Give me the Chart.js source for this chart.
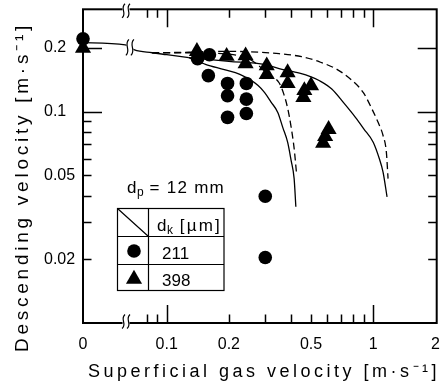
<!DOCTYPE html>
<html><head><meta charset="utf-8">
<script src="https://cdn.jsdelivr.net/npm/chart.js@4"></script>
<style>html,body{margin:0;padding:0;background:#fff}</style>
</head><body>
<canvas id="c" width="446" height="385" style="display:block;width:446px;height:385px"></canvas>
<script>
// ---- axis ticks / labels ----
const X_TICK_VALUES = [0, 0.1, 0.2, 0.5, 1, 2];
const X_TICK_LABELS = ['0', '0.1', '0.2', '0.5', '1', '2'];
const X_MAJOR_MARKS = [0.1, 1];
const X_MINOR_MARKS = [0.08, 0.09, 0.2, 0.3, 0.4, 0.5, 0.6, 0.7, 0.8, 0.9];
const Y_TICK_VALUES = [0.02, 0.05, 0.1, 0.2];
const Y_TICK_LABELS = ['0.02', '0.05', '0.1', '0.2'];
const Y_MAJOR_MARKS = [0.1, 0.2];
const Y_MINOR_MARKS = [0.02, 0.03, 0.04, 0.05, 0.06, 0.07, 0.08, 0.09];
const X_MIN = 0.0393, X_MAX = 2.03, Y_MIN = 0.01, Y_MAX = 0.305;
const AXIS_BREAK_X = 0.0635;
const X_TITLE = 'Superficial gas velocity [m·s⁻¹]';
const Y_TITLE = 'Descending velocity [m·s⁻¹]';
const SERIES_LABELS = ['211', '398'];

// ---- measured points (dk = 211 µm : circles, 398 µm : triangles) ----
const SMALL_X = [0, 0.141, 0.161, 0.159, 0.197, 0.197, 0.197, 0.243, 0.243, 0.243, 0.3, 0.3];
const SMALL_Y = [0.221, 0.178, 0.186, 0.148, 0.136, 0.119, 0.094, 0.136, 0.1146, 0.098, 0.0398, 0.0204];
const LARGE_X = [0, 0.14, 0.195, 0.241, 0.241, 0.305, 0.305, 0.385, 0.385, 0.5, 0.464, 0.459, 0.608, 0.585, 0.572];
const LARGE_Y = [0.2, 0.193, 0.183, 0.184, 0.169, 0.165, 0.150, 0.153, 0.136, 0.133, 0.126, 0.117, 0.0825, 0.0765, 0.071];

// ---- calculated curves ----
const STEM_X = [0, 0.063, 0.0698, 0.085, 0.1, 0.128];
const STEM_Y = [0.212, 0.207, 0.196, 0.19, 0.186, 0.18];
const SOLID_L_X = [0.128, 0.154, 0.19, 0.226, 0.277, 0.298, 0.32, 0.345, 0.365, 0.385, 0.4, 0.414, 0.422];
const SOLID_L_Y = [0.18, 0.1675, 0.158, 0.15, 0.133, 0.123, 0.111, 0.0992, 0.084, 0.0717, 0.059, 0.0482, 0.0355];
const SOLID_R_X = [0.128, 0.2, 0.3, 0.35, 0.44, 0.5, 0.55, 0.63, 0.72, 0.82, 0.9, 1.0, 1.07, 1.116, 1.167];
const SOLID_R_Y = [0.18, 0.173, 0.167, 0.16, 0.152, 0.146, 0.14, 0.128, 0.11, 0.094, 0.083, 0.0717, 0.06, 0.0518, 0.0395];
const DASH_L_X = [0.085, 0.128, 0.2, 0.25, 0.277, 0.31, 0.35, 0.37, 0.385, 0.4, 0.414, 0.426];
const DASH_L_Y = [0.19, 0.19, 0.187, 0.178, 0.166, 0.15, 0.137, 0.12, 0.104, 0.085, 0.067, 0.05];
const DASH_R_X = [0.085, 0.128, 0.17, 0.25, 0.35, 0.45, 0.55, 0.667, 0.78, 0.896, 1.0, 1.056, 1.116, 1.158, 1.18];
const DASH_R_Y = [0.19, 0.191, 0.193, 0.192, 0.188, 0.182, 0.172, 0.1586, 0.142, 0.123, 0.1, 0.089, 0.0771, 0.0643, 0.0482];

const pts = (xs, ys) => xs.map((x, i) => ({x, y: ys[i]}));
const markerDs = (label, xs, ys, style, r) => ({
  label, data: pts(xs, ys), pointStyle: style, pointRadius: r, pointHoverRadius: r,
  backgroundColor: '#000', borderColor: '#000', borderWidth: 0, showLine: false, clip: false
});
const curveDs = (label, xs, ys, dashed) => ({
  label, data: pts(xs, ys), showLine: true, pointRadius: 0, borderColor: '#000',
  borderWidth: 1.3, borderDash: dashed ? [7, 4] : [], cubicInterpolationMode: 'monotone', fill: false
});
const STEM_INDEX = 2;
const CIRCLE_R = 6.8, TRIANGLE_R = 9.3;

function breakGlyph(ctx, x, y, h) {
  ctx.save();
  ctx.strokeStyle = '#000'; ctx.lineWidth = 1.2;
  for (const dx of [-2.5, 2.5]) {
    ctx.beginPath();
    ctx.moveTo(x + dx + 1.5, y - h / 2);
    ctx.bezierCurveTo(x + dx - 4, y - h / 6, x + dx + 4, y + h / 6, x + dx - 1.5, y + h / 2);
    ctx.stroke();
  }
  ctx.restore();
}
function spacedText(ctx, text, x, y, width, font) {
  ctx.font = font;
  ctx.letterSpacing = '0px';
  const w = ctx.measureText(text).width;
  const sp = (width - w) / text.length;
  ctx.letterSpacing = sp.toFixed(2) + 'px';
  ctx.textAlign = 'left'; ctx.textBaseline = 'alphabetic';
  ctx.fillText(text, x, y);
  ctx.letterSpacing = '0px';
}
function subText(ctx, main, sub, rest, x, y, size, endX) {
  ctx.textAlign = 'left'; ctx.textBaseline = 'alphabetic';
  ctx.font = size + 'px "Liberation Sans"';
  ctx.fillText(main, x, y);
  let cx = x + ctx.measureText(main).width + 0.5;
  ctx.font = Math.round(size * 0.72) + 'px "Liberation Sans"';
  ctx.fillText(sub, cx, y + 3);
  cx += ctx.measureText(sub).width;
  spacedText(ctx, rest, cx, y, endX - cx, size + 'px "Liberation Sans"');
}

const decor = {
  id: 'decor',
  afterDatasetsDraw(chart) {
    const ctx = chart.ctx;
    const meta = chart.getDatasetMeta(STEM_INDEX);
    const a = meta.data[1], b = meta.data[2];
    const mx = (a.x + b.x) / 2, my = (a.y + b.y) / 2;
    ctx.save();
    ctx.fillStyle = '#fff';
    ctx.fillRect(mx - 3.5, my - 8, 7, 16);
    breakGlyph(ctx, mx, my, 16);
    ctx.restore();
  },
  afterDraw(chart) {
    const ctx = chart.ctx;
    const xs = chart.scales.x, ys = chart.scales.y;
    const {left, right, top, bottom} = chart.chartArea;
    ctx.save();
    ctx.strokeStyle = '#000'; ctx.fillStyle = '#000';
    ctx.lineWidth = 2;
    ctx.strokeRect(left, top, right - left, bottom - top);
    ctx.lineWidth = 1.5;
    const tickX = (vals, len) => vals.forEach(v => {
      const p = Math.round(xs.getPixelForValue(v)) + 0.5;
      ctx.beginPath(); ctx.moveTo(p, bottom); ctx.lineTo(p, bottom - len);
      ctx.moveTo(p, top); ctx.lineTo(p, top + len); ctx.stroke();
    });
    const tickY = (vals, len) => vals.forEach(v => {
      const p = Math.round(ys.getPixelForValue(v)) + 0.5;
      ctx.beginPath(); ctx.moveTo(left, p); ctx.lineTo(left + len, p);
      ctx.moveTo(right, p); ctx.lineTo(right - len, p); ctx.stroke();
    });
    tickX(X_MAJOR_MARKS, 18); tickX(X_MINOR_MARKS, 8.5);
    tickY(Y_MAJOR_MARKS, 19); tickY(Y_MINOR_MARKS, 8.5);
    // axis breaks
    const bx = xs.getPixelForValue(AXIS_BREAK_X);
    ctx.fillStyle = '#fff';
    ctx.fillRect(bx - 3.5, top - 2, 7, 4);
    ctx.fillRect(bx - 3.5, bottom - 2, 7, 4);
    breakGlyph(ctx, bx, top + 1.5, 14);
    breakGlyph(ctx, bx, bottom - 1.5, 14);
    ctx.fillStyle = '#000';
    // titles
    spacedText(ctx, X_TITLE, 88, 377, 352, '18px "Liberation Sans"');
    ctx.save(); ctx.translate(28, 352); ctx.rotate(-Math.PI / 2);
    spacedText(ctx, Y_TITLE, 0, 0, 330, '19px "Liberation Sans"');
    ctx.restore();
    // dp annotation
    subText(ctx, 'd', 'p', ' = 12 mm', 127, 193, 17, 225);
    // legend table
    ctx.lineWidth = 1.2;
    const L = 117.5, R = 224, T = 208.5, B = 290.5, C = 148.5, R1 = 236.5, R2 = 264.5;
    ctx.strokeRect(L, T, R - L, B - T);
    ctx.beginPath();
    ctx.moveTo(C, T); ctx.lineTo(C, B);
    ctx.moveTo(L, R1); ctx.lineTo(R, R1);
    ctx.moveTo(L, R2); ctx.lineTo(R, R2);
    ctx.moveTo(L, T); ctx.lineTo(C, R1);
    ctx.stroke();
    subText(ctx, 'd', 'k', ' [µm]', 157, 231, 17, 222);
    ctx.beginPath(); ctx.arc(134, 251, CIRCLE_R, 0, Math.PI * 2); ctx.fill();
    const tx = 134, ty = 279, r = TRIANGLE_R;
    ctx.beginPath();
    ctx.moveTo(tx, ty - r);
    ctx.lineTo(tx + r * Math.sin(2 * Math.PI / 3), ty - r * Math.cos(2 * Math.PI / 3));
    ctx.lineTo(tx + r * Math.sin(4 * Math.PI / 3), ty - r * Math.cos(4 * Math.PI / 3));
    ctx.closePath(); ctx.fill();
    ctx.font = '17px "Liberation Sans"'; ctx.textAlign = 'left'; ctx.textBaseline = 'alphabetic';
    ctx.fillText(SERIES_LABELS[0], 162, 259);
    ctx.fillText(SERIES_LABELS[1], 162, 286);
    ctx.restore();
  }
};

Chart.defaults.font.family = '"Liberation Sans"';
Chart.defaults.color = '#000';

new Chart(document.getElementById('c'), {
  type: 'scatter',
  data: {
    datasets: [
      markerDs(SERIES_LABELS[0], SMALL_X, SMALL_Y, 'circle', CIRCLE_R),
      markerDs(SERIES_LABELS[1], LARGE_X, LARGE_Y, 'triangle', TRIANGLE_R),
      curveDs('common', STEM_X, STEM_Y, false),
      curveDs('solid 1', SOLID_L_X, SOLID_L_Y, false),
      curveDs('solid 2', SOLID_R_X, SOLID_R_Y, false),
      curveDs('dashed 1', DASH_L_X, DASH_L_Y, true),
      curveDs('dashed 2', DASH_R_X, DASH_R_Y, true)
    ]
  },
  options: {
    responsive: false, animation: false, devicePixelRatio: 1,
    layout: {padding: {left: 44, top: 6, right: 5, bottom: 0}},
    plugins: {legend: {display: false}, tooltip: {enabled: false}},
    scales: {
      x: {
        type: 'logarithmic', position: 'bottom', min: X_MIN, max: X_MAX,
        grid: {display: false, drawTicks: false}, border: {display: false},
        afterBuildTicks: s => { s.ticks = X_TICK_VALUES.map(v => ({value: v})); },
        afterFit: s => { s.height = 62; s.paddingLeft = 0; s.paddingRight = 0; },
        ticks: {autoSkip: false, maxRotation: 0, minRotation: 0, padding: 12, color: '#000',
                font: {size: 16}, callback: (v, i) => X_TICK_LABELS[i]}
      },
      y: {
        type: 'logarithmic', position: 'left', min: Y_MIN, max: Y_MAX,
        grid: {display: false, drawTicks: false}, border: {display: false},
        afterBuildTicks: s => { s.ticks = Y_TICK_VALUES.map(v => ({value: v})); },
        afterFit: s => { s.width = 39; s.paddingTop = 0; s.paddingBottom = 0; },
        ticks: {autoSkip: false, crossAlign: 'far', padding: 0, color: '#000',
                font: {size: 16}, callback: (v, i) => Y_TICK_LABELS[i]}
      }
    }
  },
  plugins: [decor]
});
</script>
</body></html>
